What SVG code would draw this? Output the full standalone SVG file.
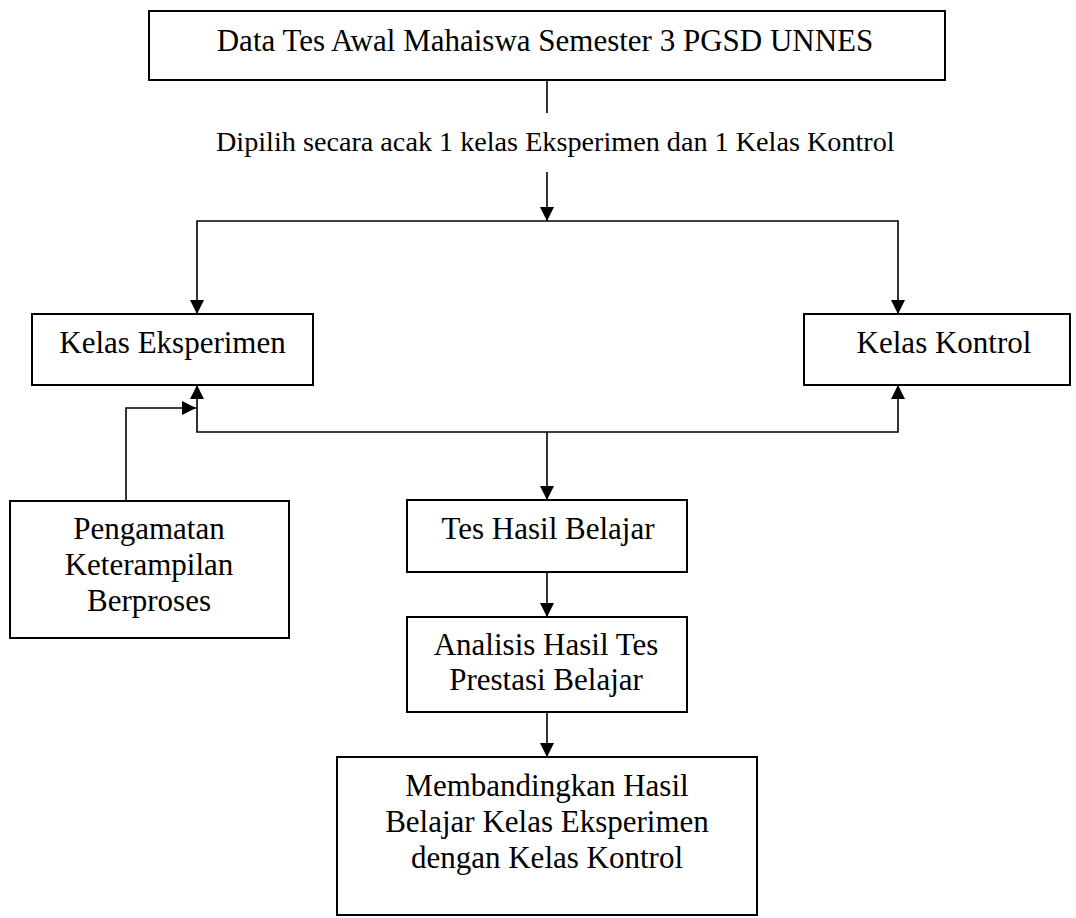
<svg xmlns="http://www.w3.org/2000/svg" width="1076" height="918" viewBox="0 0 1076 918">
<style>
.box{fill:#fff;stroke:#000;stroke-width:2}
.t{font-family:"Liberation Serif","Times New Roman",serif;font-size:31px;fill:#000;text-anchor:middle}
.c{fill:none;stroke:#000;stroke-width:1.6}
</style>
<defs>
<marker id="ah" viewBox="0 0 14 14" refX="14" refY="7" markerWidth="14" markerHeight="14" markerUnits="userSpaceOnUse" orient="auto">
<path d="M0,0 L14,7 L0,14 z" fill="#000"/>
</marker>
</defs>
<rect width="1076" height="918" fill="#fff"/>
<g id="connectors">
<line class="c" x1="547" y1="80" x2="547" y2="113"/>
<text class="t" x="216" y="151" style="text-anchor:start;font-size:28.2px">Dipilih secara acak 1 kelas Eksperimen dan 1 Kelas Kontrol</text>
<line class="c" x1="547" y1="172" x2="547" y2="221" marker-end="url(#ah)"/>
<polyline class="c" points="197,314 197,221 898,221 898,314"/>
<path d="M190,300 L204,300 L197,314 z M891,300 L905,300 L898,314 z" fill="#000"/>
<polyline class="c" points="197,385 197,432 898,432 898,385"/>
<path d="M190,399 L204,399 L197,385 z M891,399 L905,399 L898,385 z" fill="#000"/>
<line class="c" x1="547" y1="432" x2="547" y2="500" marker-end="url(#ah)"/>
<polyline class="c" points="126,501 126,408 196,408" marker-end="url(#ah)"/>
<line class="c" x1="547" y1="572" x2="547" y2="617" marker-end="url(#ah)"/>
<line class="c" x1="547" y1="712" x2="547" y2="757" marker-end="url(#ah)"/>
</g>
<g id="n-data">
<rect class="box" x="149" y="11" width="796" height="69"/>
<text class="t" x="545" y="51">Data Tes Awal Mahaiswa Semester 3 PGSD UNNES</text>
</g>
<g id="n-eksperimen">
<rect class="box" x="32" y="314" width="281" height="71"/>
<text class="t" x="172.5" y="353">Kelas Eksperimen</text>
</g>
<g id="n-kontrol">
<rect class="box" x="804" y="314" width="266" height="71"/>
<text class="t" x="944" y="353">Kelas Kontrol</text>
</g>
<g id="n-pengamatan">
<rect class="box" x="10" y="501" width="279" height="137"/>
<text class="t" x="149" y="539">Pengamatan</text>
<text class="t" x="149" y="575">Keterampilan</text>
<text class="t" x="149" y="611">Berproses</text>
</g>
<g id="n-tes">
<rect class="box" x="407" y="500" width="280" height="72"/>
<text class="t" x="548" y="539">Tes Hasil Belajar</text>
</g>
<g id="n-analisis">
<rect class="box" x="407" y="617" width="280" height="95"/>
<text class="t" x="546" y="655">Analisis Hasil Tes</text>
<text class="t" x="546" y="690">Prestasi Belajar</text>
</g>
<g id="n-membandingkan">
<rect class="box" x="337" y="757" width="420" height="158"/>
<text class="t" x="547" y="796">Membandingkan Hasil</text>
<text class="t" x="547" y="832">Belajar Kelas Eksperimen</text>
<text class="t" x="547" y="868">dengan Kelas Kontrol</text>
</g>
</svg>
